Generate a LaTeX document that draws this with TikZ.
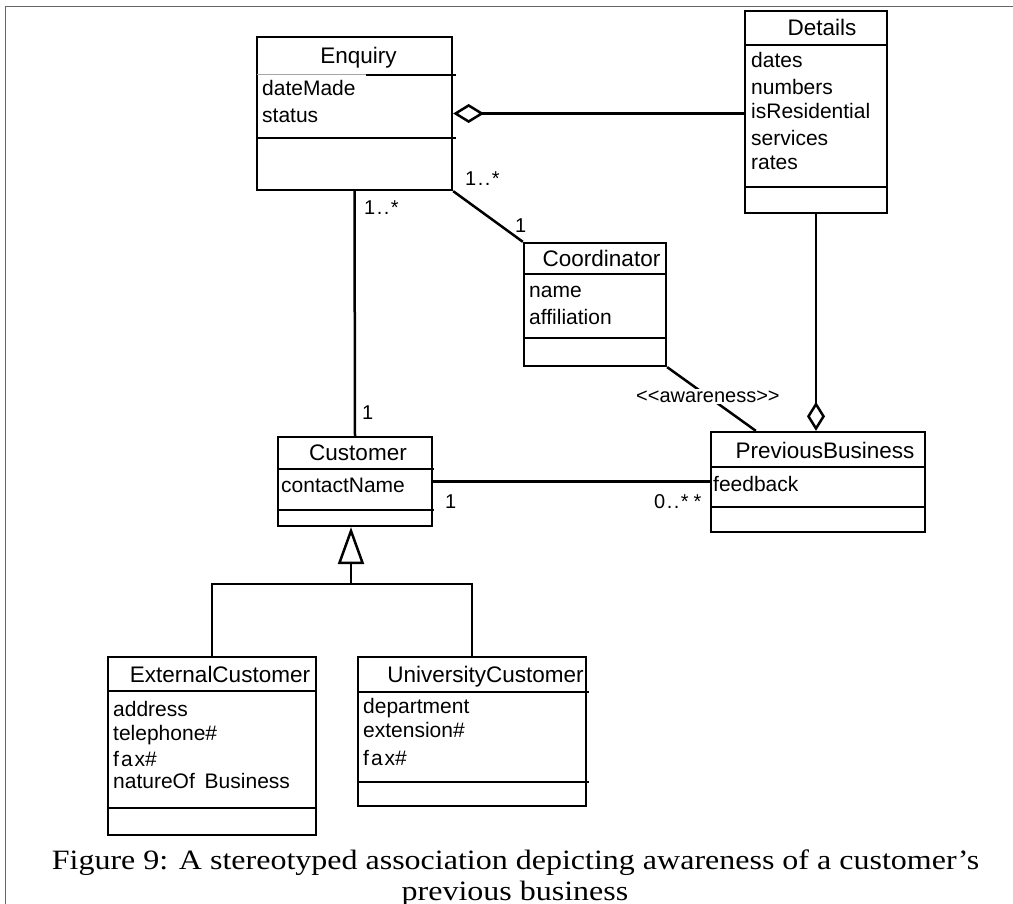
\documentclass[tikz,border=0pt]{standalone}
\usepackage{fontspec}
\setmainfont{Liberation Sans}
\newfontfamily\capfont[FakeStretch=1.143]{Liberation Serif}
\usetikzlibrary{arrows.meta,calc}
\newcommand\mdots{\kern1.5pt.\kern1.5pt.\kern1.5pt}
\begin{document}
\begin{tikzpicture}[x=1pt,y=-1pt,
  cls/.style={draw, line width=2.3pt, inner sep=0pt, rectangle},
  sep/.style={line width=2.3pt},
  conn/.style={line width=2.5pt},
  ttl/.style={anchor=base, inner sep=0pt, font=\fontsize{22.5}{27}\selectfont},
  attr/.style={anchor=base west, inner sep=0pt, font=\fontsize{21}{25}\selectfont},
  mult/.style={anchor=base west, inner sep=0pt, font=\fontsize{20}{24}\selectfont},
  capt/.style={anchor=base, inner sep=0pt, font=\capfont\fontsize{28}{31}\selectfont},
]
\useasboundingbox (0,0) rectangle (1013,904);
\draw[black!60, line width=1.5pt] (1013,6.5) -- (5.5,6.5) -- (5.5,904);

% ---- classes ----
\node[cls, minimum width=195pt, minimum height=153pt] (enq)   at (354.5,113.5) {};
\node[cls, minimum width=142pt, minimum height=202pt] (det)   at (816,112) {};
\node[cls, minimum width=142pt, minimum height=123pt] (coord) at (595,304.5) {};
\node[cls, minimum width=154pt, minimum height=89pt]  (cust)  at (355,481.5) {};
\node[cls, minimum width=214pt, minimum height=100pt] (pb)    at (818,482) {};
\node[cls, minimum width=208pt, minimum height=178pt] (ext)   at (212,746) {};
\node[cls, minimum width=228pt, minimum height=149pt] (univ)  at (472,731.5) {};

% ---- compartment separators ----
\draw[black!35, line width=1pt] (257,75) -- (366,75);
\draw[sep] (366,75) -- (456,75);
\draw[sep] (257,138) -- (456,138);
\draw[sep] (745,45) -- (887,45);
\draw[sep] (745,187) -- (887,187);
\draw[sep] (524,274) -- (666,274);
\draw[sep] (524,338) -- (666,338);
\draw[sep] (278,469) -- (434,469);
\draw[sep] (278,510) -- (434,510);
\draw[sep] (711,467) -- (925,467);
\draw[sep] (711,507) -- (925,507);
\draw[sep] (108,691) -- (316,691);
\draw[sep] (108,808) -- (316,808);
\draw[sep] (358,692) -- (589,692);
\draw[sep] (358,782) -- (589,782);

% ---- texts ----
\node[ttl] (enqT) at (358.5,64) {Enquiry};
\node[attr] (enqA1) at (262,96) {dateMade};
\node[attr] (enqA2) at (262,123) {status};

\node[ttl] (detT) at (822,36) {Details};
\node[attr] (detA1) at (751,68) {dates};
\node[attr] (detA2) at (751,95) {numbers};
\node[attr] (detA3) at (751,119) {isResidential};
\node[attr] (detA4) at (751,145.5) {services};
\node[attr] (detA5) at (751,170) {rates};

\node[ttl] (coordT) at (601.5,266.5) {Coordinator};
\node[attr] (coordA1) at (529,298) {name};
\node[attr] (coordA2) at (529,324) {affiliation};

\node[ttl] (custT) at (358,460) {Customer};
\node[attr] (custA1) at (281,492) {contactName};

\node[ttl] (pbT) at (825,458) {PreviousBusiness};
\node[attr] (pbA1) at (713,491.5) {feedback};

\node[ttl] (extT) at (220,682) {ExternalCustomer};
\node[attr] (extA1) at (113,716.5) {address};
\node[attr] (extA2) at (113,740) {telephone\#};
\node[attr] (extA3) at (113,766.5) {f\kern2pt a\kern2pt x\#};
\node[attr] (extA4) at (113,788) {natureOf\hspace{4pt} Business};

\node[ttl] (univT) at (485.5,682) {UniversityCustomer};
\node[attr] (univA1) at (363,713) {department};
\node[attr] (univA2) at (363,737.5) {extension\#};
\node[attr] (univA3) at (363,765) {f\kern2pt a\kern2pt x\#};

% ---- connectors ----
\draw[conn, {Diamond[open,length=31pt,width=19pt]}-] (enq.east) -- (enq.east -| det.west);
\draw[conn, -{Diamond[open,length=29pt,width=18pt]}] (det.south) -- (det.south |- pb.north);
\draw[conn] (enq.south east) -- (coord.north west);
\draw[conn] (enq.south) -- (cust.north);
\draw[conn] (cust.east) -- (cust.east -| pb.west);
\coordinate (pbn) at ($(pb.north west)+(46,0)$);
\draw[conn] (coord.south east) -- node[pos=0.46, fill=white, inner sep=2pt, font=\fontsize{20}{24}\selectfont] (aw) {<\kern0pt<awareness>\kern0pt>} (pbn);
\coordinate (gtip) at ($(cust.south)+(-4,0)$);
\coordinate (gbar) at ($(cust.south)+(-4,57)$);
\draw[conn] (ext.north) |- (gbar) -| (univ.north);
\draw[conn, -{Triangle[open,length=37pt,width=26pt]}] (gbar) -- (gtip);

% ---- multiplicities ----
\node[mult] (m1) at (465,186) {1\mdots*};
\node[mult, fill=white, inner sep=1pt] (m2) at (514,233) {1};
\node[mult] (m3) at (364,215) {1\mdots*};
\node[mult] (m4) at (362,419) {1};
\node[mult] (m5) at (445,508) {1};
\node[mult] (m6) at (654,508) {0\mdots*\kern5pt*};

% ---- caption ----
\node[capt] (cap1) at (515.5,869) {Figure 9: A stereotyped association depicting awareness of a customer’s};
\node[capt] (cap2) at (515,900) {previous business};
\end{tikzpicture}
\end{document}
